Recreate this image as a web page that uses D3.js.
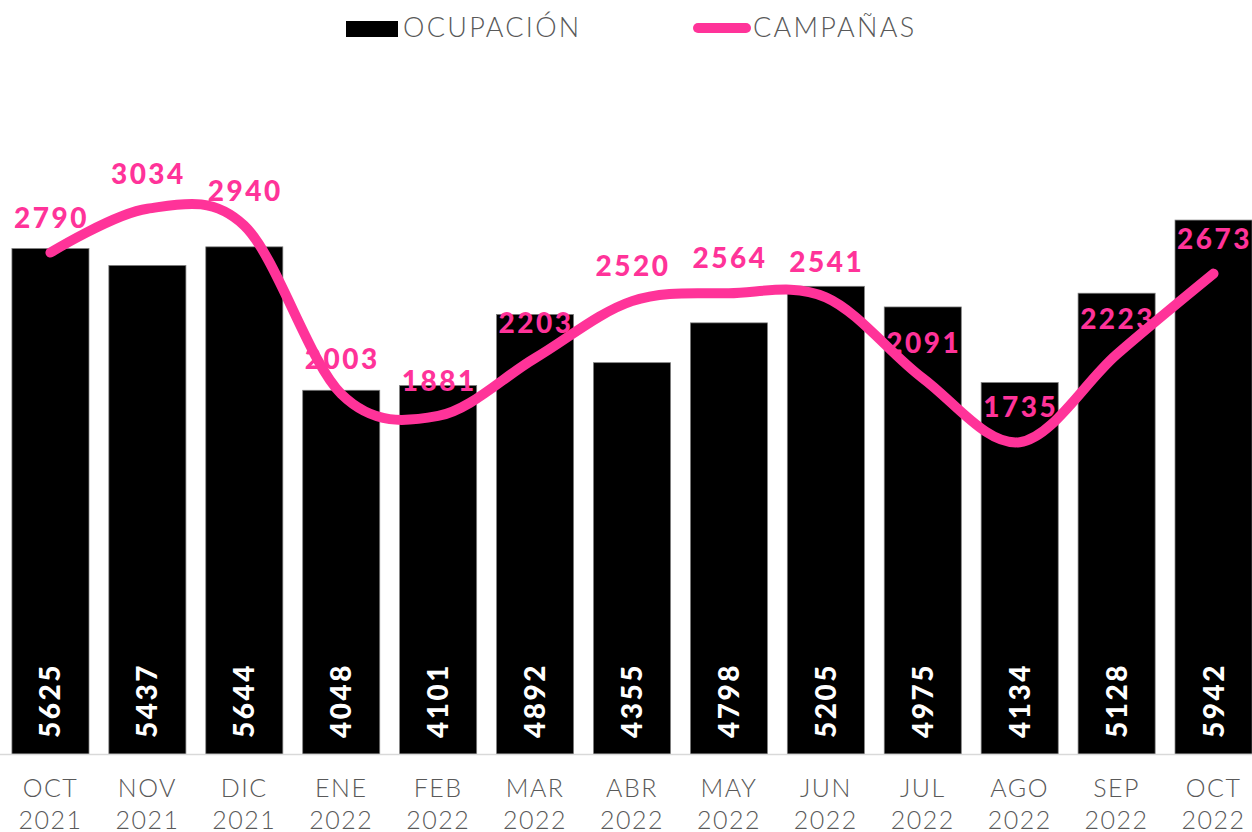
<!DOCTYPE html>
<html>
<head>
<meta charset="utf-8">
<script src="https://cdn.jsdelivr.net/npm/d3@7"></script>
<style>
  body { margin: 0; background: #fff; }
  svg { display: block; }
</style>
</head>
<body>
<script>
var meses = ['OCT', 'NOV', 'DIC', 'ENE', 'FEB', 'MAR', 'ABR', 'MAY', 'JUN', 'JUL', 'AGO', 'SEP', 'OCT'];
var anios = ['2021', '2021', '2021', '2022', '2022', '2022', '2022', '2022', '2022', '2022', '2022', '2022', '2022'];
var ocupacion = [5625, 5437, 5644, 4048, 4101, 4892, 4355, 4798, 5205, 4975, 4134, 5128, 5942];
var campanas = [2790, 3034, 2940, 2003, 1881, 2203, 2520, 2564, 2541, 2091, 1735, 2223, 2673];

var width = 1252, height = 832;
var pink = '#ff3399';
var grey = '#595959';
var numFont = 'Lato, "Open Sans", sans-serif';

var cats = meses.map(function(m, i){ return i; });

var x = d3.scaleBand()
	.domain(cats)
	.range([2, 1262])
	.paddingInner(0.205)
	.paddingOuter(0.1025);
var yBar = d3.scaleLinear().domain([0, 7000]).range([754, 125]);
var yLine = d3.scaleLinear().domain([0, 3500]).range([754, 125]);

var svg = d3.select('body').append('svg')
	.attr('width', width)
	.attr('height', height);

// barras
svg.append('g').selectAll('rect')
	.data(ocupacion)
	.enter()
	.append('rect')
	.attr('x', function(d, i){ return x(i); })
	.attr('y', function(d){ return yBar(d); })
	.attr('width', x.bandwidth())
	.attr('height', function(d){ return yBar(0) - yBar(d); })
	.attr('fill', '#000')
	.attr('stroke', '#7f7f7f')
	.attr('stroke-width', 0.75);

// eje
svg.append('line')
	.attr('x1', 0).attr('x2', width)
	.attr('y1', yBar(0) + 0.5).attr('y2', yBar(0) + 0.5)
	.attr('stroke', '#d9d9d9')
	.attr('stroke-width', 1.5);

// etiquetas de barras
svg.append('g').selectAll('text')
	.data(ocupacion)
	.enter()
	.append('text')
	.attr('transform', function(d, i){
		return 'translate(' + (x(i) + x.bandwidth() / 2 + 10) + ',' + (yBar(0) - 16) + ') rotate(-90)';
	})
	.attr('fill', '#fff')
	.attr('font-family', numFont)
	.attr('font-weight', 900)
	.attr('font-size', 28)
	.attr('letter-spacing', 2.5)
	.text(function(d){ return d; });

// linea
var line = d3.line()
	.x(function(d, i){ return x(i) + x.bandwidth() / 2; })
	.y(function(d){ return yLine(d); })
	.curve(d3.curveCatmullRom.alpha(0));

svg.append('path')
	.datum(campanas)
	.attr('d', line)
	.attr('fill', 'none')
	.attr('stroke', pink)
	.attr('stroke-width', 10)
	.attr('stroke-linecap', 'round')
	.attr('stroke-linejoin', 'round');

svg.append('g').selectAll('text')
	.data(campanas)
	.enter()
	.append('text')
	.attr('x', function(d, i){ return x(i) + x.bandwidth() / 2 + 1; })
	.attr('y', function(d){ return yLine(d) - 25; })
	.attr('text-anchor', 'middle')
	.attr('fill', pink)
	.attr('font-family', numFont)
	.attr('font-weight', 900)
	.attr('font-size', 28)
	.attr('letter-spacing', 2.5)
	.text(function(d){ return d; });

// categorias
var cat = svg.append('g').selectAll('text')
	.data(cats)
	.enter()
	.append('text')
	.attr('text-anchor', 'middle')
	.attr('fill', grey)
	.attr('font-family', 'Lato, sans-serif')
	.attr('font-weight', 300)
	.attr('font-size', 25)
	.attr('letter-spacing', 1.5);
cat.append('tspan')
	.attr('x', function(d){ return x(d) + x.bandwidth() / 2; })
	.attr('y', 797)
	.text(function(d){ return meses[d]; });
cat.append('tspan')
	.attr('x', function(d){ return x(d) + x.bandwidth() / 2; })
	.attr('y', 829)
	.text(function(d){ return anios[d]; });

// leyenda
var leg = svg.append('g');
leg.append('rect')
	.attr('x', 346).attr('y', 21)
	.attr('width', 52).attr('height', 16)
	.attr('fill', '#000');
leg.append('text')
	.attr('x', 403).attr('y', 37)
	.attr('fill', grey)
	.attr('font-family', 'Lato, sans-serif')
	.attr('font-weight', 300)
	.attr('font-size', 27)
	.attr('letter-spacing', 2.3)
	.text('OCUPACIÓN');
leg.append('line')
	.attr('x1', 698).attr('x2', 746)
	.attr('y1', 28).attr('y2', 28)
	.attr('stroke', pink)
	.attr('stroke-width', 10)
	.attr('stroke-linecap', 'round');
leg.append('text')
	.attr('x', 753).attr('y', 37)
	.attr('fill', grey)
	.attr('font-family', 'Lato, sans-serif')
	.attr('font-weight', 300)
	.attr('font-size', 27)
	.attr('letter-spacing', 2.3)
	.text('CAMPAÑAS');
</script>
</body>
</html>
